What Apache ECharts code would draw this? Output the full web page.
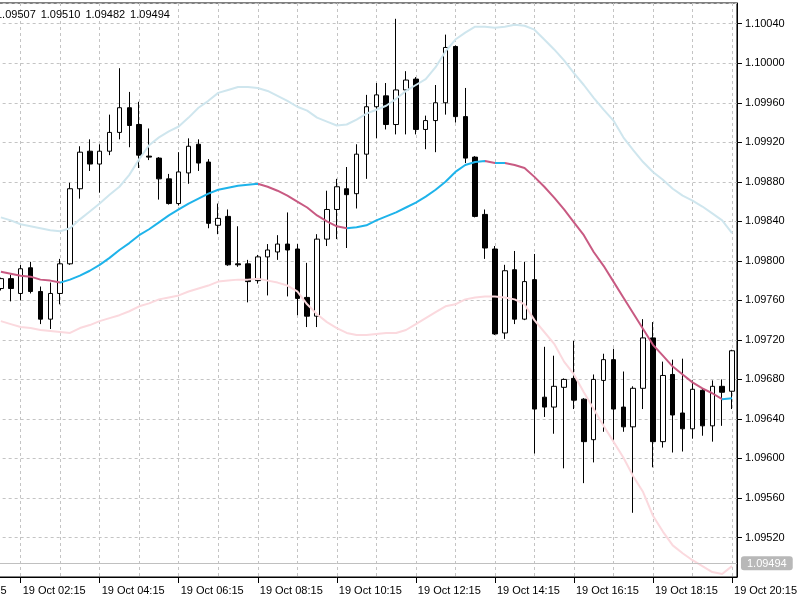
<!DOCTYPE html>
<html>
<head>
<meta charset="utf-8">
<title>EURUSD M15</title>
<script src="https://cdn.jsdelivr.net/npm/echarts@6/dist/echarts.min.js"></script>
<style>
  html, body { margin: 0; padding: 0; background: #fff; overflow: hidden; width: 800px; height: 600px; }
  /* the chart window starts 64px left of the screen, as in the terminal */
  #chart { position: absolute; left: -64px; top: 0; width: 864px; height: 600px; }
</style>
</head>
<body>
<div id="chart"></div>
<script>
// M15 bars from 19 Oct 01:45 to 20:15
const opens = [
  1.09772, 1.09782, 1.09767, 1.09793, 1.09769, 1.09741, 1.09767, 1.09797, 1.09873, 1.09911,
  1.09898, 1.09911, 1.09930, 1.09955, 1.09938, 1.09906, 1.09904, 1.09883, 1.09858, 1.09889,
  1.09918, 1.09900, 1.09836, 1.09845, 1.09797, 1.09797, 1.09780, 1.09804, 1.09809, 1.09817,
  1.09812, 1.09763, 1.09744, 1.09822, 1.09852, 1.09873, 1.09868, 1.09908, 1.09956, 1.09967,
  1.09938, 1.09973, 1.09984, 1.09933, 1.09942, 1.09960, 1.10017, 1.09946, 1.09905, 1.09847,
  1.09812, 1.09727, 1.09791, 1.09741, 1.09781, 1.09662, 1.09652, 1.09672, 1.09681, 1.09660,
  1.09619, 1.09679, 1.09700, 1.09652, 1.09632, 1.09671, 1.09722, 1.09617, 1.09685, 1.09646,
  1.09630, 1.09669, 1.09633, 1.09673, 1.09668
];
const closes = [
  1.09782, 1.09772, 1.09792, 1.09769, 1.09741, 1.09767, 1.09797, 1.09873, 1.09910, 1.09898,
  1.09911, 1.09930, 1.09955, 1.09937, 1.09907, 1.09905, 1.09883, 1.09858, 1.09890, 1.09916,
  1.09899, 1.09838, 1.09843, 1.09796, 1.09796, 1.09779, 1.09804, 1.09811, 1.09817, 1.09811,
  1.09762, 1.09744, 1.09822, 1.09852, 1.09875, 1.09867, 1.09908, 1.09956, 1.09968, 1.09938,
  1.09973, 1.09983, 1.09933, 1.09942, 1.09960, 1.10016, 1.09946, 1.09904, 1.09845, 1.09813,
  1.09726, 1.09790, 1.09741, 1.09779, 1.09650, 1.09652, 1.09673, 1.09680, 1.09659, 1.09617,
  1.09680, 1.09700, 1.09650, 1.09632, 1.09671, 1.09722, 1.09617, 1.09684, 1.09644, 1.09630,
  1.09670, 1.09633, 1.09673, 1.09667, 1.09709
];
const lows = [
  1.09770, 1.09759, 1.09760, 1.09767, 1.09736, 1.09731, 1.09756, 1.09796, 1.09863, 1.09891,
  1.09869, 1.09907, 1.09923, 1.09915, 1.09894, 1.09902, 1.09862, 1.09857, 1.09856, 1.09878,
  1.09891, 1.09833, 1.09827, 1.09795, 1.09794, 1.09758, 1.09777, 1.09765, 1.09801, 1.09764,
  1.09745, 1.09733, 1.09733, 1.09815, 1.09822, 1.09813, 1.09853, 1.09883, 1.09924, 1.09933,
  1.09928, 1.09928, 1.09928, 1.09913, 1.09910, 1.09948, 1.09940, 1.09899, 1.09844, 1.09802,
  1.09725, 1.09721, 1.09736, 1.09740, 1.09605, 1.09642, 1.09625, 1.09590, 1.09650, 1.09575,
  1.09596, 1.09627, 1.09617, 1.09627, 1.09545, 1.09650, 1.09591, 1.09611, 1.09606, 1.09607,
  1.09620, 1.09623, 1.09617, 1.09633, 1.09650
];
const highs = [
  1.09783, 1.09786, 1.09796, 1.09799, 1.09774, 1.09778, 1.09802, 1.09879, 1.09916, 1.09923,
  1.09918, 1.09948, 1.09995, 1.09971, 1.09961, 1.09934, 1.09905, 1.09888, 1.09910, 1.09924,
  1.09923, 1.09903, 1.09858, 1.09852, 1.09835, 1.09801, 1.09806, 1.09817, 1.09826, 1.09849,
  1.09817, 1.09798, 1.09827, 1.09871, 1.09883, 1.09895, 1.09918, 1.09968, 1.09980, 1.09980,
  1.10045, 1.09992, 1.09986, 1.09947, 1.09978, 1.10029, 1.10018, 1.09975, 1.09906, 1.09852,
  1.09815, 1.09796, 1.09810, 1.09799, 1.09807, 1.09713, 1.09704, 1.09681, 1.09719, 1.09661,
  1.09685, 1.09706, 1.09711, 1.09688, 1.09673, 1.09741, 1.09738, 1.09698, 1.09700, 1.09701,
  1.09679, 1.09671, 1.09679, 1.09680, 1.09710
];
// moving average and its two bands, same bars
const maMid = [
  1.09789, 1.09787, 1.09785, 1.09784, 1.09781, 1.09780, 1.09778, 1.09781, 1.09785, 1.09790,
  1.09796, 1.09803, 1.09811, 1.09818, 1.09826, 1.09832, 1.09839, 1.09846, 1.09852, 1.09858,
  1.09863, 1.09868, 1.09872, 1.09874, 1.09876, 1.09877, 1.09878, 1.09875, 1.09871, 1.09866,
  1.09860, 1.09854, 1.09846, 1.09840, 1.09835, 1.09833, 1.09834, 1.09836, 1.09841, 1.09845,
  1.09849, 1.09854, 1.09859, 1.09865, 1.09872, 1.09880, 1.09890, 1.09897, 1.09900, 1.09901,
  1.09899, 1.09899, 1.09897, 1.09894, 1.09885, 1.09875, 1.09864, 1.09852, 1.09839, 1.09826,
  1.09809, 1.09795, 1.09779, 1.09763, 1.09747, 1.09731, 1.09715, 1.09704, 1.09693, 1.09685,
  1.09677, 1.09671, 1.09666, 1.09660, 1.09661
];
const bandUp = [
  1.09844, 1.09841, 1.09837, 1.09835, 1.09833, 1.09831, 1.09830, 1.09833, 1.09842, 1.09850,
  1.09858, 1.09867, 1.09875, 1.09887, 1.09903, 1.09917, 1.09925, 1.09931, 1.09936, 1.09945,
  1.09955, 1.09962, 1.09970, 1.09973, 1.09976, 1.09976, 1.09975, 1.09972, 1.09967, 1.09962,
  1.09956, 1.09952, 1.09945, 1.09941, 1.09937, 1.09938, 1.09943, 1.09949, 1.09953, 1.09957,
  1.09964, 1.09972, 1.09978, 1.09984, 1.09996, 1.10012, 1.10024, 1.10031, 1.10037, 1.10037,
  1.10036, 1.10037, 1.10039, 1.10038, 1.10034, 1.10024, 1.10014, 1.10003, 1.09990, 1.09978,
  1.09965, 1.09953, 1.09942, 1.09925, 1.09912, 1.09900, 1.09890, 1.09882, 1.09873, 1.09866,
  1.09861, 1.09855, 1.09848, 1.09841, 1.09828
];
const bandDn = [
  1.09739, 1.09736, 1.09733, 1.09732, 1.09730, 1.09729, 1.09728, 1.09727, 1.09732, 1.09735,
  1.09739, 1.09742, 1.09745, 1.09749, 1.09754, 1.09757, 1.09761, 1.09763, 1.09765, 1.09769,
  1.09772, 1.09775, 1.09779, 1.09780, 1.09781, 1.09781, 1.09782, 1.09780, 1.09778, 1.09775,
  1.09769, 1.09756, 1.09746, 1.09738, 1.09732, 1.09727, 1.09725, 1.09725, 1.09726, 1.09727,
  1.09727, 1.09730, 1.09736, 1.09742, 1.09748, 1.09754, 1.09756, 1.09761, 1.09763, 1.09764,
  1.09764, 1.09763, 1.09761, 1.09756, 1.09740, 1.09728, 1.09716, 1.09698, 1.09685, 1.09667,
  1.09650, 1.09633, 1.09617, 1.09601, 1.09582, 1.09566, 1.09542, 1.09526, 1.09512, 1.09504,
  1.09497, 1.09491, 1.09485, 1.09483, 1.09491
];
const lastQuote = ['1.09507', '1.09510', '1.09482', '1.09494'];
const bidPrice = 1.09494;
const priceMin = 1.09480;
const priceMax = 1.10061;
const priceStep = 0.0004;

const MA_UP = '#1eb3ea';
const MA_DOWN = '#c85a82';
const FONT = 'Liberation Sans';

// time axis 00:15 .. 20:15, the first bars lie left of the window
const times = [];
for (let m = 15; m <= 20 * 60 + 15; m += 15) {
  const hh = String(Math.floor(m / 60)).padStart(2, '0');
  const mm = String(m % 60).padStart(2, '0');
  times.push('19 Oct ' + hh + ':' + mm);
}
const pad = times.length - opens.length;
const blank = new Array(pad).fill('-');

const candles = blank.map(() => ['-', '-', '-', '-']);
for (let i = 0; i < opens.length; i++) {
  candles.push([opens[i], closes[i], lows[i], highs[i]]);
}
const maLine = blank.concat(maMid);

// colour the average by direction of each step
const pieces = [];
for (let i = pad + 1; i < maLine.length; i++) {
  const color = maLine[i] >= maLine[i - 1] ? MA_UP : MA_DOWN;
  const last = pieces[pieces.length - 1];
  if (last && last.color === color) {
    last.lte = i;
  } else if (!last) {
    pieces.push({ gte: i - 1, lte: i, color: color });
  } else {
    pieces.push({ gt: i - 1, lte: i, color: color });
  }
}

const getchart = echarts.init(document.getElementById('chart'));
const gridLine = { color: '#c4c4c4', type: [3, 3], width: 1 };
const option = {
  animation: false,
  backgroundColor: '#fff',
  textStyle: { fontFamily: FONT },
  // O H L C of the last bar, top left
  title: lastQuote.map((q, i) => ({
    text: q,
    left: 60 + i * 44.7,
    top: 9,
    padding: 0,
    textStyle: { fontSize: 11, fontWeight: 'normal', color: '#000', fontFamily: FONT }
  })),
  grid: {
    left: 0.65,
    top: 3,
    width: 801.9,
    height: 574,
    show: true,
    borderColor: '#000',
    borderWidth: 1
  },
  visualMap: {
    show: false,
    type: 'piecewise',
    seriesIndex: 3,
    dimension: 0,
    pieces: pieces,
    outOfRange: { color: MA_UP }
  },
  xAxis: {
    type: 'category',
    data: times,
    boundaryGap: true,
    axisLine: { show: true, lineStyle: { color: '#000' } },
    axisTick: {
      show: true,
      alignWithLabel: true,
      length: 6,
      interval: (i) => i % 8 === 0,
      lineStyle: { color: '#000' }
    },
    axisLabel: {
      interval: (i) => i % 8 === 0,
      align: 'left',
      margin: 8,
      padding: [0, 0, 0, 2],
      color: '#000',
      fontSize: 11,
      fontFamily: FONT
    },
    splitLine: {
      show: true,
      alignWithLabel: true,
      interval: (i) => i % 4 === 0,
      lineStyle: gridLine
    }
  },
  yAxis: {
    type: 'value',
    position: 'right',
    min: priceMin,
    max: priceMax,
    interval: priceStep,
    axisLine: { show: true, lineStyle: { color: '#000' } },
    axisTick: { show: true, length: 5, lineStyle: { color: '#000' } },
    axisLabel: {
      formatter: (v) => v.toFixed(5),
      showMinLabel: false,
      showMaxLabel: false,
      margin: 8,
      color: '#000',
      fontSize: 11,
      fontFamily: FONT
    },
    splitLine: { show: true, lineStyle: gridLine },
    // current bid: line across the window and a grey tag on the scale
    axisPointer: {
      show: true,
      type: 'line',
      value: bidPrice,
      status: 'show',
      snap: false,
      triggerTooltip: false,
      lineStyle: { color: '#c0c0c0', type: 'solid', width: 1 },
      label: {
        show: true,
        formatter: () => bidPrice.toFixed(5),
        margin: 4,
        color: '#fff',
        backgroundColor: '#b8b8b8',
        padding: [2, 6, 1, 6],
        fontSize: 11,
        fontFamily: FONT
      }
    }
  },
  series: [
    {
      name: 'bars',
      type: 'candlestick',
      data: candles,
      barWidth: 5,
      itemStyle: {
        color: '#ffffff',
        color0: '#000000',
        borderColor: '#000000',
        borderColor0: '#000000',
        borderWidth: 1
      }
    },
    {
      name: 'upper',
      type: 'line',
      data: blank.concat(bandUp),
      showSymbol: false,
      z: 3,
      lineStyle: { color: '#cfe6ee', width: 2 },
      itemStyle: { color: '#cfe6ee' }
    },
    {
      name: 'lower',
      type: 'line',
      data: blank.concat(bandDn),
      showSymbol: false,
      z: 3,
      lineStyle: { color: '#fbd9de', width: 2 },
      itemStyle: { color: '#fbd9de' }
    },
    {
      name: 'average',
      type: 'line',
      data: maLine,
      showSymbol: false,
      z: 4,
      lineStyle: { width: 2 }
    }
  ]
};
getchart.setOption(option);
</script>
</body>
</html>
